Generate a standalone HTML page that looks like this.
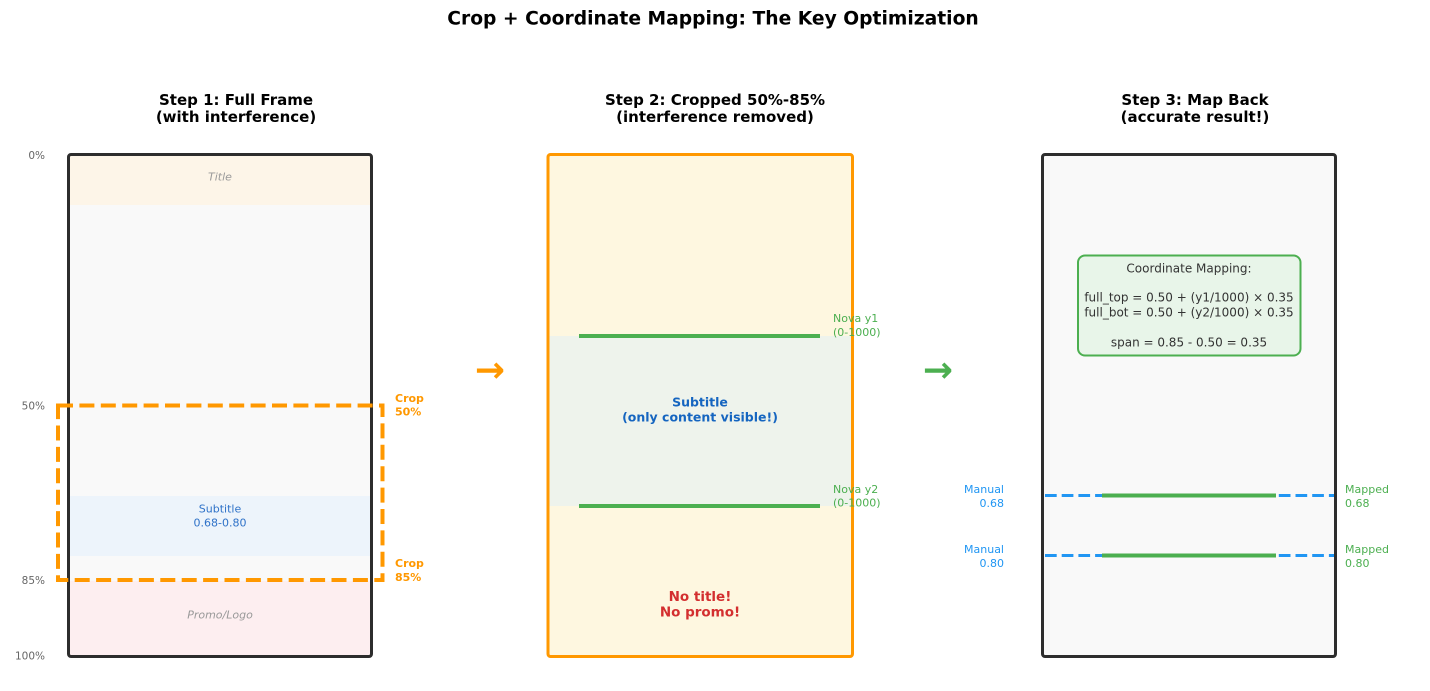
<!DOCTYPE html>
<html><head><meta charset="utf-8"><style>
html,body{margin:0;padding:0;background:#fff;}
svg{display:block;}
text{font-family:"DejaVu Sans","Liberation Sans",sans-serif;}
</style></head><body>
<svg width="1430" height="691" viewBox="0 0 1430 691" xmlns="http://www.w3.org/2000/svg">
<rect x="0" y="0" width="1430" height="691" fill="#fff"/>
<!-- Main title -->
<text x="713" y="24.5" font-size="18.7" font-weight="bold" text-anchor="middle" fill="#000">Crop + Coordinate Mapping: The Key Optimization</text>

<!-- Step titles -->
<g font-size="15" font-weight="bold" text-anchor="middle" fill="#000">
<text x="236" y="105">Step 1: Full Frame</text>
<text x="236" y="122">(with interference)</text>
<text x="715" y="105">Step 2: Cropped 50%-85%</text>
<text x="715" y="122">(interference removed)</text>
<text x="1195" y="105">Step 3: Map Back</text>
<text x="1195" y="122">(accurate result!)</text>
</g>

<!-- Panel 1 -->
<rect x="68.5" y="154.5" width="303" height="502" rx="2" fill="#f9f9f9"/>
<rect x="69" y="155" width="302" height="50" fill="#fdf5e8"/>
<rect x="69" y="496" width="302" height="60" fill="#edf4fb"/>
<rect x="69" y="581" width="302" height="76" fill="#fdeef0"/>
<rect x="68.5" y="154.5" width="303" height="502" rx="2.5" fill="none" stroke="#2d2d2d" stroke-width="3"/>
<text x="220" y="180.5" font-size="11" font-style="italic" text-anchor="middle" fill="#999">Title</text>
<text x="220" y="618.5" font-size="11" font-style="italic" text-anchor="middle" fill="#999">Promo/Logo</text>
<text x="220" y="512.5" font-size="11" text-anchor="middle" fill="#2f72c8">Subtitle</text>
<text x="220" y="526.5" font-size="11" text-anchor="middle" fill="#2f72c8">0.68-0.80</text>
<rect x="58" y="405.5" width="324.5" height="174.5" fill="none" stroke="#ff9800" stroke-width="4" stroke-dasharray="15 6.4"/>
<g font-size="10.5" text-anchor="end" fill="#666">
<text x="45" y="159">0%</text>
<text x="45" y="409.5">50%</text>
<text x="45" y="584">85%</text>
<text x="45" y="659.5">100%</text>
</g>
<g font-size="11" font-weight="bold" fill="#ff9800">
<text x="395" y="402">Crop</text>
<text x="395" y="415.5">50%</text>
<text x="395" y="567">Crop</text>
<text x="395" y="581">85%</text>
</g>

<!-- Arrow 1 -->
<text x="490" y="382" font-size="36" font-weight="bold" text-anchor="middle" fill="#ff9800">→</text>

<!-- Panel 2 -->
<rect x="548" y="154.5" width="304.5" height="502" rx="2.5" fill="#fef7e0"/>
<rect x="549" y="336" width="302" height="170" fill="#eef3ec"/>
<rect x="548" y="154.5" width="304.5" height="502" rx="2.5" fill="none" stroke="#ff9800" stroke-width="3"/>
<line x1="579" y1="336" x2="820" y2="336" stroke="#4caf50" stroke-width="4"/>
<line x1="579" y1="506" x2="820" y2="506" stroke="#4caf50" stroke-width="4"/>
<g font-size="11" fill="#4caf50">
<text x="833" y="322">Nova y1</text>
<text x="833" y="336">(0-1000)</text>
<text x="833" y="493">Nova y2</text>
<text x="833" y="506.5">(0-1000)</text>
</g>
<text x="700" y="406.5" font-size="12.5" font-weight="bold" text-anchor="middle" fill="#1565c0">Subtitle</text>
<text x="700" y="421.5" font-size="12.5" font-weight="bold" text-anchor="middle" fill="#1565c0">(only content visible!)</text>
<text x="700" y="601" font-size="13.5" font-weight="bold" text-anchor="middle" fill="#d32f2f">No title!</text>
<text x="700" y="616.5" font-size="13.5" font-weight="bold" text-anchor="middle" fill="#d32f2f">No promo!</text>

<!-- Arrow 2 -->
<text x="938" y="382" font-size="36" font-weight="bold" text-anchor="middle" fill="#4caf50">→</text>

<!-- Panel 3 -->
<rect x="1042.5" y="154.5" width="293" height="502" rx="2.5" fill="#f9f9f9" stroke="#2d2d2d" stroke-width="3"/>
<rect x="1078" y="255.5" width="222.5" height="100" rx="7" fill="#e8f5e9" stroke="#4caf50" stroke-width="2"/>
<g font-size="12" text-anchor="middle" fill="#333">
<text x="1189" y="272.5">Coordinate Mapping:</text>
<text x="1189" y="301.5">full_top = 0.50 + (y1/1000) × 0.35</text>
<text x="1189" y="316.5">full_bot = 0.50 + (y2/1000) × 0.35</text>
<text x="1189" y="346.5">span = 0.85 - 0.50 = 0.35</text>
</g>
<line x1="1045" y1="495.5" x2="1334" y2="495.5" stroke="#2196f3" stroke-width="3" stroke-dasharray="11.7 5"/>
<line x1="1045" y1="555.5" x2="1334" y2="555.5" stroke="#2196f3" stroke-width="3" stroke-dasharray="11.7 5"/>
<line x1="1102" y1="495.5" x2="1276" y2="495.5" stroke="#4caf50" stroke-width="4"/>
<line x1="1102" y1="555.5" x2="1276" y2="555.5" stroke="#4caf50" stroke-width="4"/>
<g font-size="11" text-anchor="end" fill="#2196f3">
<text x="1004" y="493">Manual</text>
<text x="1004" y="507">0.68</text>
<text x="1004" y="553">Manual</text>
<text x="1004" y="567">0.80</text>
</g>
<g font-size="11" fill="#4caf50">
<text x="1345" y="493">Mapped</text>
<text x="1345" y="507">0.68</text>
<text x="1345" y="553">Mapped</text>
<text x="1345" y="567">0.80</text>
</g>
</svg>
</body></html>
